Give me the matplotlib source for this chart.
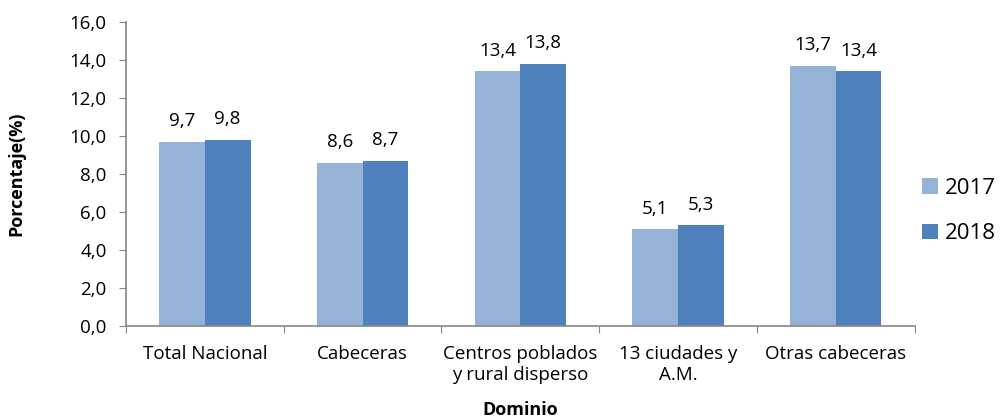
import matplotlib.pyplot as plt
import numpy as np

plt.rcParams['font.family'] = ['Open Sans', 'DejaVu Sans']

# data
dominios = ['Total Nacional', 'Cabeceras', 'Centros poblados\ny rural disperso',
            '13 ciudades y\nA.M.', 'Otras cabeceras']
v2017 = [9.7, 8.6, 13.4, 5.1, 13.7]
v2018 = [9.8, 8.7, 13.8, 5.3, 13.4]

c17 = '#95B3D7'
c18 = '#4F81BD'
gris = '#868686'

fig = plt.figure(figsize=(10.02, 4.19), dpi=100)
ax = fig.add_axes([0.1257, 0.222, 0.787, 0.7255])

x = np.arange(len(dominios))
w = 0.29
b1 = ax.bar(x - w/2, v2017, w, color=c17, label='2017')
b2 = ax.bar(x + w/2, v2018, w, color=c18, label='2018')

for bars, vals in [(b1, v2017), (b2, v2018)]:
    for b, v in zip(bars, vals):
        ax.text(b.get_x() + b.get_width()/2, v + 0.6, f'{v:.1f}'.replace('.', ','),
                ha='center', va='bottom', fontsize=13.5)

ax.set_xlim(-0.5, len(dominios) - 0.5)
ax.set_ylim(0, 16)
ax.set_yticks(np.arange(0, 16.1, 2))
ax.set_yticklabels([f'{t:.1f}'.replace('.', ',') for t in np.arange(0, 16.1, 2)], fontsize=13.5)

# category boundaries as major ticks, labels on minor ticks
ax.set_xticks(np.arange(-0.5, len(dominios), 1))
ax.set_xticklabels([])
ax.set_xticks(x, minor=True)
ax.set_xticklabels(dominios, minor=True, fontsize=13.5)
ax.tick_params(axis='x', which='minor', length=0, pad=14)
ax.tick_params(axis='x', which='major', length=5, color=gris)
ax.tick_params(axis='y', length=5, color=gris, pad=9)

for s in ['top', 'right']:
    ax.spines[s].set_visible(False)
for s in ['left', 'bottom']:
    ax.spines[s].set_color(gris)
    ax.spines[s].set_linewidth(1.2)

ax.set_ylabel('Porcentaje(%)', fontsize=13, fontweight='bold', labelpad=32)
ax.set_xlabel('Dominio', fontsize=13, fontweight='bold', labelpad=12)

ax.legend(loc='center left', bbox_to_anchor=(1.0, 0.378), frameon=False, fontsize=16,
          handlelength=0.7, handleheight=0.7, handletextpad=0.3, labelspacing=1.1,
          borderaxespad=0.15, borderpad=0.2)

fig.savefig('out.png', dpi=100)
